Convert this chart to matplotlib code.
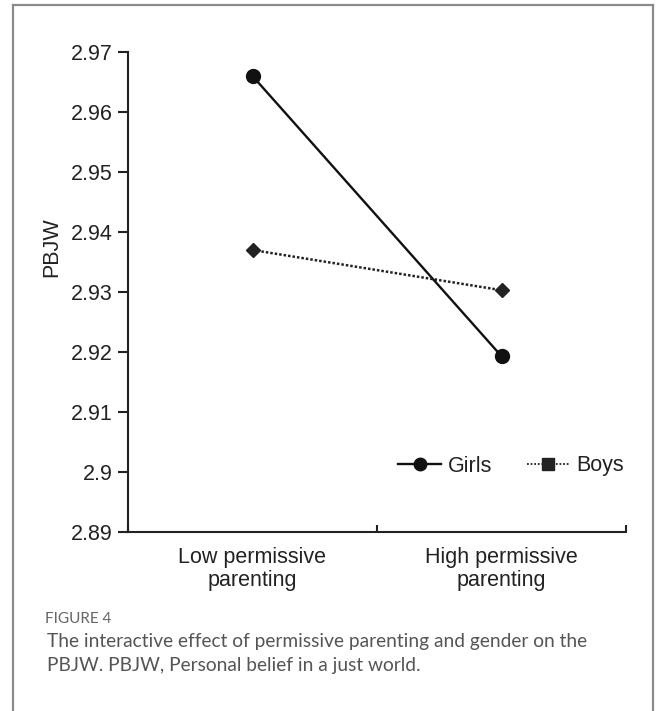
import matplotlib
matplotlib.use("Agg")
import matplotlib.pyplot as plt
from matplotlib.lines import Line2D

categories = ["Low permissive\nparenting", "High permissive\nparenting"]
girls = [2.966, 2.9193]
boys = [2.937, 2.9303]
yticks = [2.89, 2.9, 2.91, 2.92, 2.93, 2.94, 2.95, 2.96, 2.97]
yticklabels = ["2.89", "2.9", "2.91", "2.92", "2.93", "2.94", "2.95", "2.96", "2.97"]

plt.rcParams['font.family'] = ['Liberation Sans', 'DejaVu Sans']

W, H = 658, 711
fig = plt.figure(figsize=(W / 100, H / 100), dpi=100)
ax = fig.add_axes([128 / W, 1 - 532 / H, (626 - 128) / W, (532 - 52) / H])

xpos = [0.5, 1.5]
ax.plot(xpos, girls, color='#111111', lw=1.7, marker='o', ms=10, zorder=3)
ax.plot(xpos, boys, color='#222222', lw=1.8, ls=(0, (1, 0.8)), marker='D', ms=7, zorder=3)

ax.set_xlim(0, 2)
ax.set_ylim(2.89, 2.97)
ax.set_yticks(yticks)
ax.set_yticklabels(yticklabels)
ax.set_xticks([0, 1, 2])
ax.set_xticklabels(["", "", ""])
ax.set_xticks(xpos, minor=True)
ax.set_xticklabels(categories, minor=True, linespacing=1.1)
ax.tick_params(axis='x', which='major', direction='in', length=5, width=1.5, color='#222222')
ax.tick_params(axis='x', which='minor', length=0, pad=11, labelsize=15.5, labelcolor='#222222')
ax.tick_params(axis='y', direction='out', length=7, width=1.5, color='#222222', pad=4,
               labelsize=15.5, labelcolor='#222222')
for s in ['top', 'right']:
    ax.spines[s].set_visible(False)
for s in ['left', 'bottom']:
    ax.spines[s].set_linewidth(1.5)
    ax.spines[s].set_color('#222222')

ax.set_ylabel("PBJW", fontsize=15.5, color='#222222')
ax.yaxis.set_label_coords(-0.1325, 0.594)

handles = [
    Line2D([], [], color='#111111', lw=1.7, marker='o', ms=9),
    Line2D([], [], color='#222222', lw=1.3, ls=(0, (1, 1)), marker='s', ms=8),
]
ax.legend(handles, ["Girls", "Boys"], loc='center', bbox_to_anchor=(0.769, 0.1375),
          ncol=2, frameon=False, fontsize=15.5, handlelength=2.0, handletextpad=0.3,
          columnspacing=1.6, labelcolor='#222222')

# Caption
fig.text(45 / W, 1 - 619 / H, "FIGURE 4", fontsize=11, color='#666666',
         family=['Lato', 'DejaVu Sans'], va='center', ha='left')
fig.text(47 / W, 1 - 642 / H, "The interactive effect of permissive parenting and gender on the",
         fontsize=13.75, color='#555555', family=['Lato', 'DejaVu Sans'], va='center', ha='left')
fig.text(47 / W, 1 - 666 / H, "PBJW. PBJW, Personal belief in a just world.",
         fontsize=13.75, color='#555555', family=['Lato', 'DejaVu Sans'], va='center', ha='left')

# Frame
fc = '#8a8a8a'
fig.add_artist(Line2D([13 / W, 13 / W], [0, 1 - 5 / H], transform=fig.transFigure, color=fc, lw=1.6))
fig.add_artist(Line2D([13 / W, 653 / W], [1 - 5 / H, 1 - 5 / H], transform=fig.transFigure, color=fc, lw=1.6))
fig.add_artist(Line2D([653 / W, 653 / W], [0, 1 - 5 / H], transform=fig.transFigure, color=fc, lw=1.6))

fig.savefig("out.png", dpi=100)
